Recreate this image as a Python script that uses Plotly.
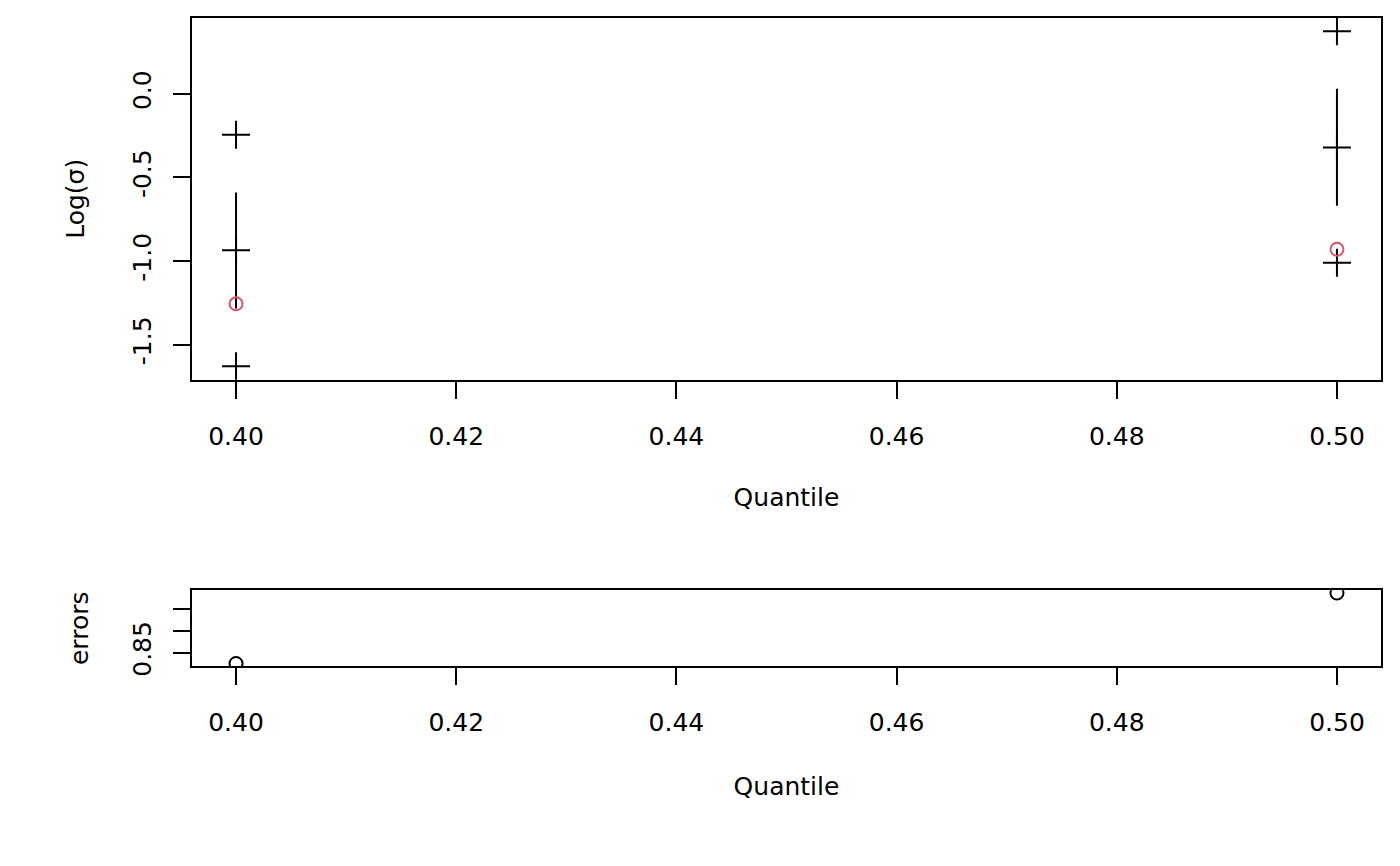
import plotly.graph_objects as go

# values
quantiles = [0.40, 0.50]
est_upper = [-0.244, 0.375]
est_mid = [-0.935, -0.32]
est_lower = [-1.63, -1.01]
ci_lo = [-1.284, -0.669]
ci_hi = [-0.59, 0.031]
ref_val = [-1.256, -0.93]
errors = [0.825, 0.988]

top_ticks = [0.0, -0.5, -1.0, -1.5]
top_ticktext = ["0.0", "-0.5", "-1.0", "-1.5"]
bot_ticks = [0.85, 0.90, 0.95]
bot_ticktext = ["0.85", "", ""]
x_ticks = [0.40, 0.42, 0.44, 0.46, 0.48, 0.50]
x_ticktext = ["0.40", "0.42", "0.44", "0.46", "0.48", "0.50"]


def padded(vals, frac=0.04):
    # R style 4% axis padding
    lo, hi = min(vals), max(vals)
    d = (hi - lo) * frac
    return [lo - d, hi + d]


FONT = "DejaVu Sans"
W, H = 1400, 866
OFF = 8  # page body margin

fig = go.Figure()

# vertical interval segments
seg_x, seg_y = [], []
for q, lo, hi in zip(quantiles, ci_lo, ci_hi):
    seg_x += [q, q, None]
    seg_y += [hi, lo, None]
fig.add_trace(go.Scatter(x=seg_x, y=seg_y, mode="lines",
                         line=dict(color="black", width=2),
                         xaxis="x", yaxis="y", showlegend=False))

for vals in (est_upper, est_mid, est_lower):
    fig.add_trace(go.Scatter(x=quantiles, y=vals, mode="markers",
                             marker=dict(symbol="cross-thin-open", size=20, color="black",
                                         line=dict(color="black", width=2)),
                             xaxis="x", yaxis="y", showlegend=False))

fig.add_trace(go.Scatter(x=quantiles, y=ref_val, mode="markers",
                         marker=dict(symbol="circle-open", size=13, color="#DF536B",
                                     line=dict(color="#DF536B", width=2)),
                         xaxis="x", yaxis="y", showlegend=False))

fig.add_trace(go.Scatter(x=quantiles, y=errors, mode="markers",
                         marker=dict(symbol="circle-open", size=13, color="black",
                                     line=dict(color="black", width=2)),
                         xaxis="x2", yaxis="y2", showlegend=False))

all_top = est_upper + est_mid + est_lower + ref_val
xdom = [(192 - OFF) / W, (1381 - OFF) / W]

axis_common = dict(showgrid=False, zeroline=False, showline=True, mirror=True,
                   linecolor="black", linewidth=1.8, ticks="outside",
                   ticklen=17, tickwidth=1.8, tickcolor="black",
                   tickfont=dict(family=FONT, size=25, color="black"))

fig.update_layout(
    width=W, height=H,
    margin=dict(l=0, r=0, t=0, b=0),
    paper_bgcolor="white", plot_bgcolor="white",
    font=dict(family=FONT, size=25, color="black"),
    xaxis=dict(domain=xdom, anchor="y", range=padded(quantiles),
               tickvals=x_ticks, ticktext=x_ticktext, ticklabelstandoff=16,
               title=dict(text="Quantile", standoff=39,
                          font=dict(family=FONT, size=25)),
               **axis_common),
    yaxis=dict(domain=[1 - (384 - OFF) / H, 1 - (18 - OFF) / H], anchor="x",
               range=padded(all_top),
               tickvals=top_ticks, ticktext=top_ticktext, tickangle=-90,
               ticklabelstandoff=12,
               title=dict(text="Log(σ)", standoff=36,
                          font=dict(family=FONT, size=25)),
               **axis_common),
    xaxis2=dict(domain=xdom, anchor="y2", range=padded(quantiles),
                tickvals=x_ticks, ticktext=x_ticktext, ticklabelstandoff=16,
                title=dict(text="Quantile", standoff=41,
                           font=dict(family=FONT, size=25)),
                **axis_common),
    yaxis2=dict(domain=[1 - (674 - OFF) / H, 1 - (597 - OFF) / H], anchor="x2",
                range=padded(errors),
                tickvals=bot_ticks, ticktext=bot_ticktext, tickangle=-90,
                ticklabelstandoff=12,
                title=dict(text="errors", standoff=32,
                           font=dict(family=FONT, size=25)),
                **axis_common),
)

fig.write_html("out.html")
